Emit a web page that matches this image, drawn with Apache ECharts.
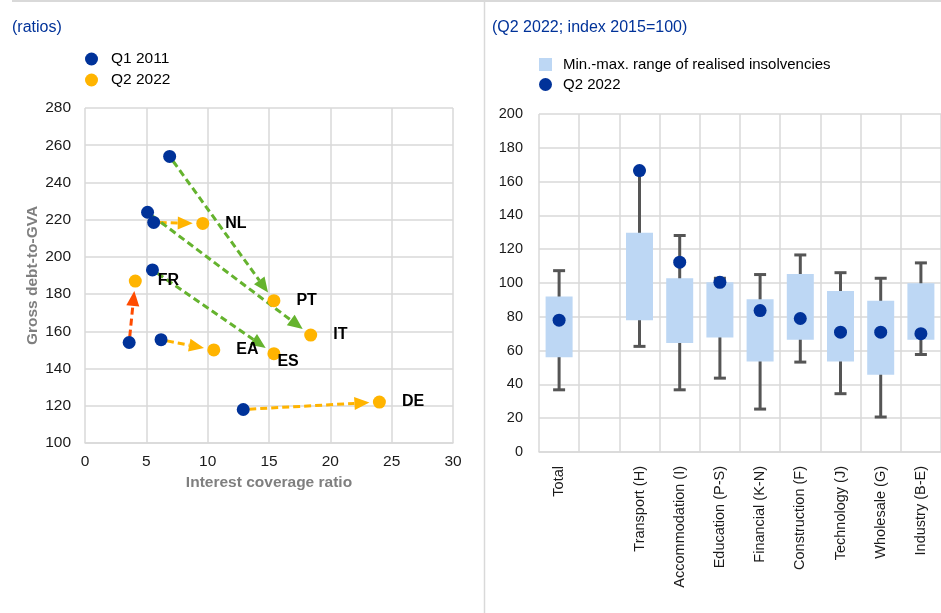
<!DOCTYPE html>
<html>
<head>
<meta charset="utf-8">
<script src="https://cdn.jsdelivr.net/npm/echarts@6/dist/echarts.min.js"></script>
<style>
html,body{margin:0;padding:0;background:#fff;}
#c{width:941px;height:613px;}
</style>
</head>
<body>
<div id="c"></div>
<script>
// ---------- Left panel data ----------
const countries = ['PT', 'NL', 'IT', 'ES', 'FR', 'EA', 'DE'];
const icr2011  = [6.9, 5.6, 5.1, 5.5, 3.6, 6.2, 12.9];
const debt2011 = [254, 218.5, 224, 193, 154, 155.5, 118];
const icr2022  = [15.4, 9.6, 18.4, 15.4, 4.1, 10.5, 24.0];
const debt2022 = [176.5, 218, 158, 148, 187, 150, 122];
const xTicks = [0, 5, 10, 15, 20, 25, 30];
const yTicksLeft = [100, 120, 140, 160, 180, 200, 220, 240, 260, 280];

// ---------- Right panel data ----------
const sectors = ['Total', '', 'Transport (H)', 'Accommodation (I)', 'Education (P-S)', 'Financial (K-N)', 'Construction (F)', 'Technology (J)', 'Wholesale (G)', 'Industry (B-E)'];
const realisedLow  = [56, null, 78, 64.5, 67.8, 53.6, 66.4, 53.6, 45.7, 66.4];
const realisedHigh = [92, null, 129.7, 102.8, 100.4, 90.4, 105.3, 95.2, 89.5, 99.9];
const whiskerLow   = [36.8, null, 62.5, 36.8, 43.7, 25.4, 53.2, 34.5, 20.7, 57.7];
const whiskerHigh  = [107.3, null, 166.5, 128.1, 102.8, 105, 116.6, 106.1, 102.8, 111.9];
const q2_2022      = [78, null, 166.5, 112.3, 100.4, 83.7, 79, 70.9, 70.9, 70];

// ---------- styles ----------
const BLUE = '#003299', ORANGE = '#ffb400', GREEN = '#65b32e', RED = '#ff4b00';
const LIGHT = '#bdd7f4', GRID = '#d9d9d9', WHISK = '#555555';
const FONT = '"Liberation Sans", Arial, sans-serif';
const arrowColour = {PT: GREEN, NL: ORANGE, IT: GREEN, ES: GREEN, FR: RED, EA: ORANGE, DE: ORANGE};
const labelOffset = {ES: [-19, 8]};

const chart = echarts.init(document.getElementById('c'), null, {renderer: 'canvas'});

const arrowData = countries.map((c, i) => [icr2011[i], debt2011[i], icr2022[i], debt2022[i], i]);

function renderArrow(params, api) {
  const p1 = api.coord([api.value(0), api.value(1)]);
  const p2 = api.coord([api.value(2), api.value(3)]);
  const col = arrowColour[countries[api.value(4)]];
  const dx = p2[0] - p1[0], dy = p2[1] - p1[1];
  const len = Math.sqrt(dx * dx + dy * dy);
  const ux = dx / len, uy = dy / len;
  const startGap = 6, endGap = 10, headLen = 15, headW = 13;
  const s = [p1[0] + ux * startGap, p1[1] + uy * startGap];
  const tip = [p2[0] - ux * endGap, p2[1] - uy * endGap];
  const base = [tip[0] - ux * headLen, tip[1] - uy * headLen];
  const nx = -uy, ny = ux;
  return {
    type: 'group',
    children: [
      {type: 'line', shape: {x1: s[0], y1: s[1], x2: base[0], y2: base[1]},
       style: {stroke: col, lineWidth: 3, lineDash: [7, 4]}},
      {type: 'polygon', shape: {points: [tip,
        [base[0] + nx * headW / 2, base[1] + ny * headW / 2],
        [base[0] - nx * headW / 2, base[1] - ny * headW / 2]]},
       style: {fill: col}}
    ]
  };
}

function renderWhisker(params, api) {
  const lo = api.value(1), hi = api.value(2);
  if (lo == null || hi == null || isNaN(lo) || isNaN(hi)) return;
  const pLo = api.coord([api.value(0), lo]);
  const pHi = api.coord([api.value(0), hi]);
  const cap = 6;
  const st = {stroke: WHISK, lineWidth: 3};
  return {
    type: 'group',
    children: [
      {type: 'line', shape: {x1: pLo[0], y1: pLo[1], x2: pHi[0], y2: pHi[1]}, style: st},
      {type: 'line', shape: {x1: pLo[0] - cap, y1: pLo[1], x2: pLo[0] + cap, y2: pLo[1]}, style: st},
      {type: 'line', shape: {x1: pHi[0] - cap, y1: pHi[1], x2: pHi[0] + cap, y2: pHi[1]}, style: st}
    ]
  };
}

const whiskerData = sectors.map((s, i) => [i, whiskerLow[i], whiskerHigh[i]]);
const rangeBase = realisedLow.map(v => v);
const rangeSize = realisedLow.map((v, i) => (v == null ? null : realisedHigh[i] - v));

const leftLabel = {color: '#1a1a1a', fontSize: 15.5, fontFamily: FONT};
const rightLabel = {color: '#1a1a1a', fontSize: 14.5, fontFamily: FONT};

const option = {
  animation: false,
  textStyle: {fontFamily: FONT},
  title: [
    {text: '(ratios)', left: 7, top: 15, textStyle: {fontSize: 16, fontWeight: 'normal', color: BLUE, fontFamily: FONT}},
    {text: '(Q2 2022; index 2015=100)', left: 487, top: 15, textStyle: {fontSize: 16, fontWeight: 'normal', color: BLUE, fontFamily: FONT}}
  ],
  legend: [
    {left: 80, top: 46, orient: 'vertical', itemWidth: 13, itemHeight: 13, itemGap: 5,
     data: [{name: 'Q1 2011', icon: 'circle'}, {name: 'Q2 2022', icon: 'circle'}],
     textStyle: {fontSize: 15.5, color: '#000', fontFamily: FONT, padding: [0, 0, 0, 8]}},
    {left: 534, top: 52, orient: 'vertical', itemWidth: 13, itemHeight: 13, itemGap: 5,
     data: [{name: 'Min.-max. range of realised insolvencies', icon: 'rect'}, {name: 'Q2 2022 ', icon: 'circle'}],
     textStyle: {fontSize: 15, color: '#000', fontFamily: FONT, padding: [0, 0, 0, 6]}}
  ],
  graphic: [
    {type: 'line', shape: {x1: 12, y1: 1, x2: 941, y2: 1}, style: {stroke: GRID, lineWidth: 2}},
    {type: 'line', shape: {x1: 484.5, y1: 0, x2: 484.5, y2: 613}, style: {stroke: GRID, lineWidth: 1.5}}
  ],
  grid: [
    {left: 85, top: 108, width: 368, height: 335},
    {left: 539, top: 114, right: -7, bottom: 161}
  ],
  xAxis: [
    {gridIndex: 0, type: 'value', min: xTicks[0], max: xTicks[xTicks.length - 1], interval: 5,
     name: 'Interest coverage ratio', nameLocation: 'middle', nameGap: 31,
     nameTextStyle: {fontSize: 15.5, fontWeight: 'bold', color: '#7f7f7f', fontFamily: FONT},
     axisLine: {show: true, lineStyle: {color: GRID, width: 1.5}}, axisTick: {show: false},
     axisLabel: Object.assign({margin: 11}, leftLabel),
     splitLine: {show: true, lineStyle: {color: GRID, width: 1.5}}},
    {gridIndex: 1, type: 'category', data: sectors, boundaryGap: true,
     axisLine: {show: true, lineStyle: {color: GRID, width: 1.5}}, axisTick: {show: false},
     axisLabel: Object.assign({rotate: 90, margin: 14, interval: 0}, rightLabel),
     splitLine: {show: true, interval: 0, lineStyle: {color: GRID, width: 1.5}}}
  ],
  yAxis: [
    {gridIndex: 0, type: 'value', min: yTicksLeft[0], max: yTicksLeft[yTicksLeft.length - 1], interval: 20,
     name: 'Gross debt-to-GVA', nameLocation: 'middle', nameGap: 44,
     nameTextStyle: {fontSize: 15.5, fontWeight: 'bold', color: '#7f7f7f', fontFamily: FONT},
     axisLine: {show: false}, axisTick: {show: false},
     axisLabel: Object.assign({margin: 14}, leftLabel),
     splitLine: {show: true, lineStyle: {color: GRID, width: 1.5}}},
    {gridIndex: 1, type: 'value', min: 0, max: 200, interval: 20,
     axisLine: {show: false}, axisTick: {show: false},
     axisLabel: Object.assign({margin: 16}, rightLabel),
     splitLine: {show: true, lineStyle: {color: GRID, width: 1.5}}}
  ],
  series: [
    {type: 'custom', name: 'arrows', xAxisIndex: 0, yAxisIndex: 0, renderItem: renderArrow,
     data: arrowData, encode: {x: [0, 2], y: [1, 3]}, z: 2, silent: true},
    {type: 'scatter', name: 'Q1 2011', xAxisIndex: 0, yAxisIndex: 0, symbolSize: 13,
     itemStyle: {color: BLUE, opacity: 1}, z: 3,
     data: icr2011.map((x, i) => [x, debt2011[i]])},
    {type: 'scatter', name: 'Q2 2022', xAxisIndex: 0, yAxisIndex: 0, symbolSize: 13,
     itemStyle: {color: ORANGE, opacity: 1}, z: 3,
     label: {show: true, position: 'right', distance: 16, fontSize: 16, fontWeight: 'bold', color: '#000', fontFamily: FONT,
             formatter: p => countries[p.dataIndex]},
     data: icr2022.map((x, i) => {
       const item = {value: [x, debt2022[i]]};
       if (labelOffset[countries[i]]) item.label = {offset: labelOffset[countries[i]]};
       return item;
     })},
    {type: 'custom', name: 'whiskers', xAxisIndex: 1, yAxisIndex: 1, renderItem: renderWhisker,
     data: whiskerData, encode: {x: 0, y: [1, 2]}, z: 1, silent: true},
    {type: 'bar', name: 'base', xAxisIndex: 1, yAxisIndex: 1, stack: 'range', barWidth: 27,
     itemStyle: {color: 'rgba(0,0,0,0)'}, data: rangeBase, z: 2, silent: true},
    {type: 'bar', name: 'Min.-max. range of realised insolvencies', xAxisIndex: 1, yAxisIndex: 1, stack: 'range', barWidth: 27,
     itemStyle: {color: LIGHT}, data: rangeSize, z: 2},
    {type: 'scatter', name: 'Q2 2022 ', xAxisIndex: 1, yAxisIndex: 1, symbolSize: 13,
     itemStyle: {color: BLUE, opacity: 1}, z: 4, data: q2_2022}
  ]
};
chart.setOption(option);
</script>
</body>
</html>
